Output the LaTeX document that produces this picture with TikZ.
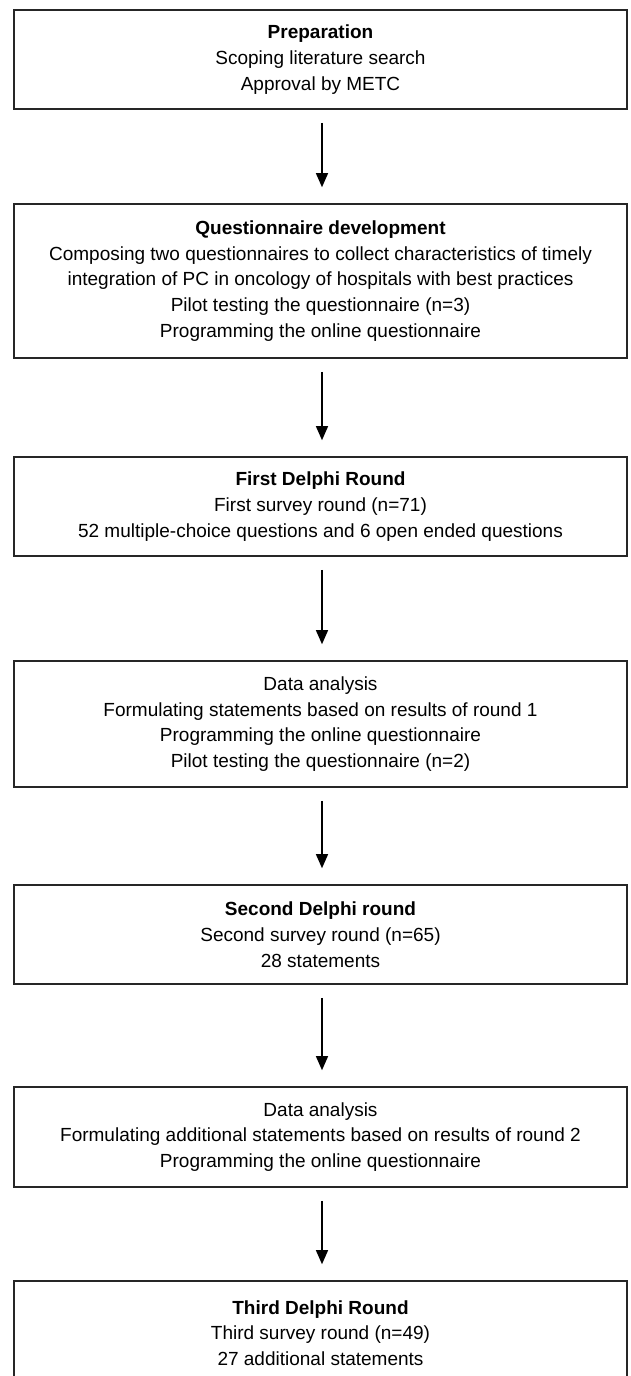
\documentclass[tikz,border=0pt]{standalone}
\usepackage{fontspec}
\setmainfont{Liberation Sans}
\usetikzlibrary{arrows.meta}
\begin{document}
\begin{tikzpicture}[x=1pt,y=-1pt,
  stagebox/.style={draw=black!85, line width=1.6pt, rectangle, minimum width=613pt,
    align=center, inner sep=0pt, font=\fontsize{19}{25.8}\selectfont},
  flowarrow/.style={draw=black, line width=1.2pt, -{Triangle[width=12pt,length=14pt]},
    shorten <=13pt, shorten >=16pt}]
\useasboundingbox (0,0) rectangle (630,1376);
\fill[white] (0,0) rectangle (630,1376);
\node[stagebox, minimum height=99pt] (b1) at (320.5,59.5)
  {\textbf{Preparation}\\Scoping literature search\\Approval by METC};
\node[stagebox, minimum height=154pt] (b2) at (320.5,281)
  {\textbf{Questionnaire development}\\Composing two questionnaires to collect characteristics of timely\\integration of PC in oncology of hospitals with best practices\\Pilot testing the questionnaire (n=3)\\Programming the online questionnaire};
\node[stagebox, minimum height=99pt] (b3) at (320.5,506.5)
  {\textbf{First Delphi Round}\\First survey round (n=71)\\52 multiple-choice questions and 6 open ended questions};
\node[stagebox, minimum height=126pt] (b4) at (320.5,724)
  {Data analysis\\Formulating statements based on results of round 1\\Programming the online questionnaire\\Pilot testing the questionnaire (n=2)};
\node[stagebox, minimum height=99pt] (b5) at (320.5,934.5)
  {\textbf{Second Delphi round}\\Second survey round (n=65)\\28 statements};
\node[stagebox, minimum height=100pt] (b6) at (320.5,1137)
  {Data analysis\\Formulating additional statements based on results of round 2\\Programming the online questionnaire};
\node[stagebox, minimum height=104pt] (b7) at (320.5,1333)
  {\textbf{Third Delphi Round}\\Third survey round (n=49)\\27 additional statements};
\foreach \a/\b in {b1/b2,b2/b3,b3/b4,b4/b5,b5/b6,b6/b7}
  \draw[flowarrow] ([xshift=1.5pt]\a.south) -- ([xshift=1.5pt]\b.north);
\end{tikzpicture}
\end{document}
